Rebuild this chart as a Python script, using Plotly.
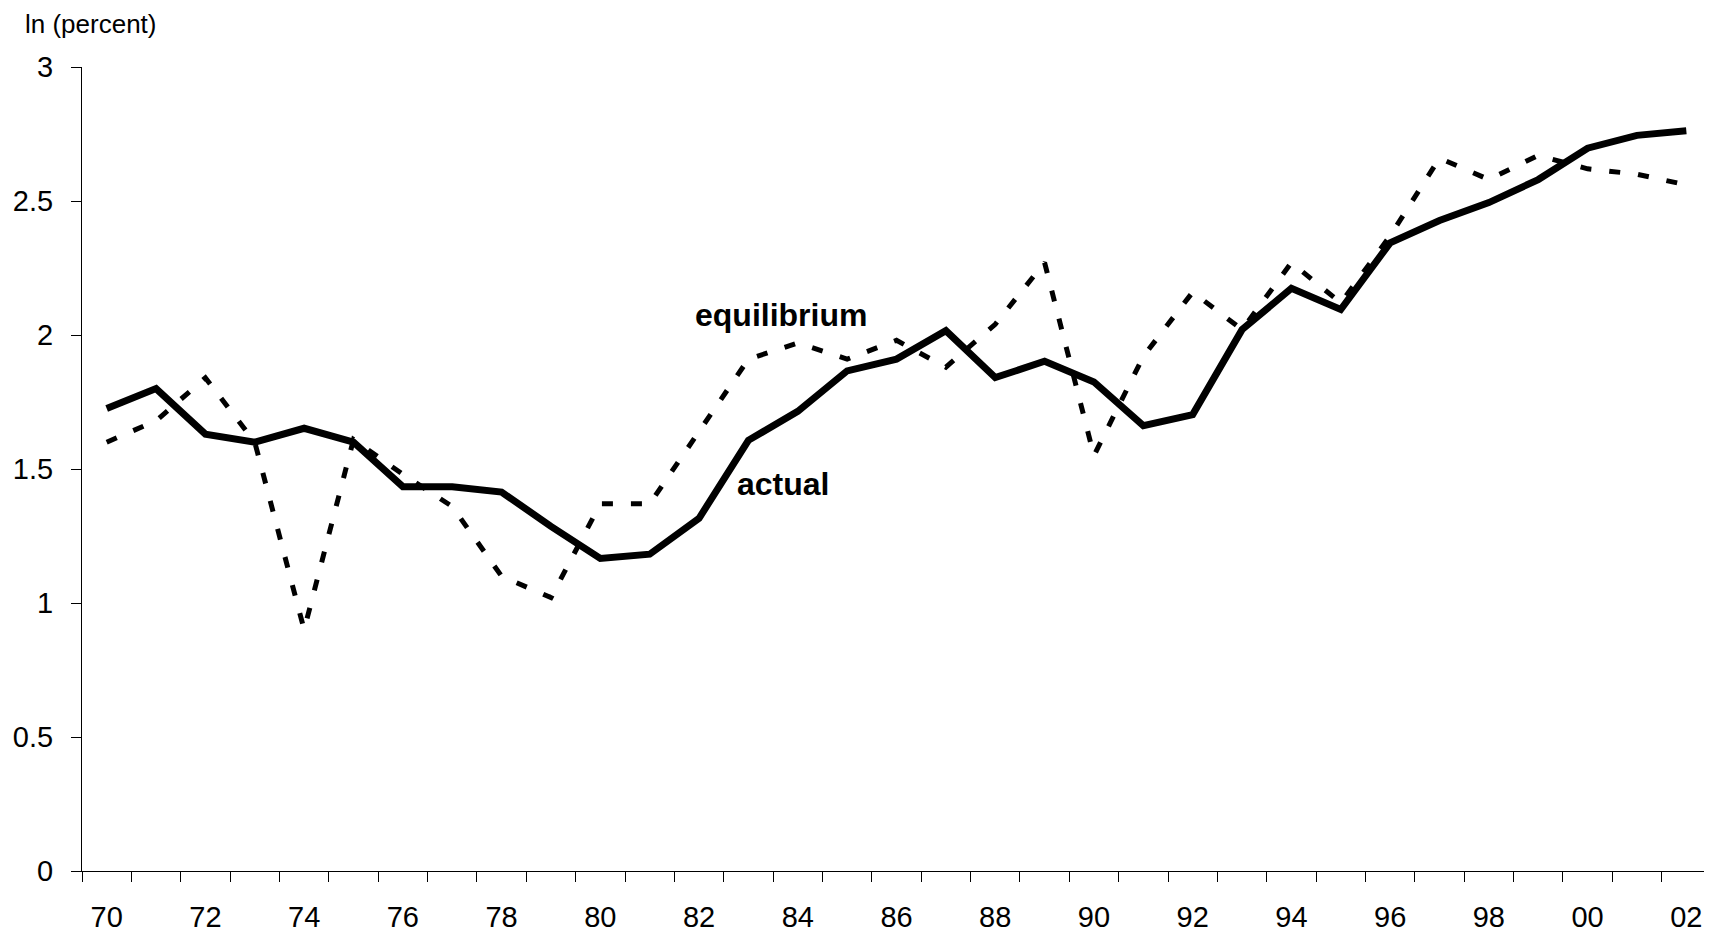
import plotly.graph_objects as go

years = list(range(1970, 2003))
year_labels = ['70', '72', '74', '76', '78', '80', '82', '84', '86', '88', '90',
               '92', '94', '96', '98', '00', '02']

actual = [1.726, 1.80, 1.63, 1.60, 1.652, 1.60, 1.434, 1.434, 1.414, 1.286,
          1.166, 1.182, 1.316, 1.607, 1.715, 1.866, 1.91, 2.016, 1.841, 1.902,
          1.825, 1.662, 1.703, 2.02, 2.174, 2.095, 2.344, 2.427, 2.494, 2.58,
          2.697, 2.745, 2.762]

equilibrium = [1.60, 1.68, 1.84, 1.60, 0.90, 1.61, 1.48, 1.36, 1.10, 1.02,
               1.37, 1.37, 1.64, 1.91, 1.97, 1.91, 1.98, 1.88, 2.04, 2.27,
               1.55, 1.92, 2.16, 2.02, 2.27, 2.12, 2.37, 2.66, 2.58, 2.67,
               2.62, 2.60, 2.56]

font = 'Liberation Sans, Arial, sans-serif'

# the page body adds an 8px margin, so the figure is drawn 8px smaller
W, H = 1704, 927
L, R, T, B = 73.5, 1, 59, 64
pw, ph = W - L - R, H - T - B

fig = go.Figure()
fig.add_trace(go.Scatter(x=years, y=equilibrium, mode='lines', name='equilibrium',
                         line=dict(width=5, color='black', dash='11px,18px')))
fig.add_trace(go.Scatter(x=years, y=actual, mode='lines', name='actual',
                         line=dict(width=7, color='black')))

fig.add_annotation(x=1983.65, y=2.075, text='<b>equilibrium</b>', showarrow=False,
                   font=dict(size=32, color='black', family=font))
fig.add_annotation(x=1983.7, y=1.444, text='<b>actual</b>', showarrow=False,
                   font=dict(size=32, color='black', family=font))
fig.add_annotation(x=(15 - L) / pw, y=1 + T / ph, xref='paper', yref='paper',
                   text='ln (percent)', showarrow=False, xanchor='left', yanchor='top',
                   borderpad=0, font=dict(size=26, color='black', family=font))

fig.update_xaxes(range=[1969.5, 2002.5], tickmode='array',
                 tickvals=years[::2], ticktext=year_labels, ticks='',
                 ticklabelstandoff=20, automargin=False,
                 showline=True, linecolor='black', linewidth=1,
                 showgrid=False, zeroline=False,
                 minor=dict(ticks='outside', ticklen=10, tickcolor='black', tickwidth=1,
                            tickmode='array',
                            tickvals=[y - 0.5 for y in years] + [years[-1] + 0.5],
                            showgrid=False),
                 tickfont=dict(size=29, color='black', family=font))
fig.update_yaxes(range=[0, 3], dtick=0.5, ticks='outside', ticklen=10,
                 tickcolor='black', tickwidth=1, ticklabelstandoff=12, automargin=False,
                 showline=True, linecolor='black', linewidth=1,
                 showgrid=False, zeroline=False,
                 tickfont=dict(size=29, color='black', family=font))

fig.update_layout(width=W, height=H, showlegend=False,
                  margin=dict(l=L, r=R, t=T, b=B),
                  plot_bgcolor='white', paper_bgcolor='white')

fig.write_html("out.html")
